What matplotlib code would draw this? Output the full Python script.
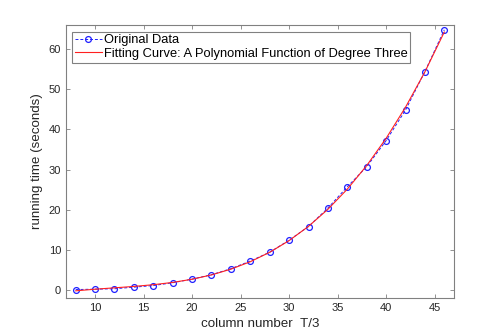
import numpy as np
import matplotlib
matplotlib.use("Agg")
import matplotlib.pyplot as plt

plt.rcParams['font.family'] = ['Liberation Sans', 'DejaVu Sans']

column_number = [8, 10, 12, 14, 16, 18, 20, 22, 24, 26, 28, 30, 32, 34, 36, 38, 40, 42, 44, 46]
running_time = [0.1, 0.2, 0.3, 0.7, 1.1, 1.8, 2.7, 3.8, 5.3, 7.2, 9.4, 12.4, 15.8,
                20.4, 25.7, 30.7, 37.2, 44.8, 54.4, 64.8]
x_ticks = [10, 15, 20, 25, 30, 35, 40, 45]
y_ticks = [0, 10, 20, 30, 40, 50, 60]

coef = np.polyfit(column_number, running_time, 3)
fit_vals = np.polyval(coef, column_number)

fig = plt.figure(figsize=(5.02, 3.35), dpi=100)
ax = fig.add_axes([66/502, 37/335, 388/502, 273/335])

ax.plot(column_number, running_time, '--o', color='#2020ff', lw=0.7, ms=4.2,
        mfc='none', mew=0.9, dashes=(3, 2), label='Original Data')
ax.plot(column_number, fit_vals, '-', color='#ff2020', lw=0.8,
        label='Fitting Curve: A Polynomial Function of Degree Three')

ax.set_xlim(7, 47)
ax.set_ylim(-2, 66)
ax.set_xticks(x_ticks)
ax.set_yticks(y_ticks)
gray = '#262626'
for s in ax.spines.values():
    s.set_color('#808080')
    s.set_linewidth(0.8)
ax.tick_params(direction='in', top=True, right=True, length=3, width=0.6,
               colors='#808080', labelcolor=gray, labelsize=8)
ax.set_xlabel('column number  T/3', fontsize=9.6, color=gray, labelpad=4)
ax.set_ylabel('running time (seconds)', fontsize=9.6, color=gray, labelpad=4)

leg = ax.legend(loc='upper left', bbox_to_anchor=(6.3/388, (298-31.7)/273), borderaxespad=0,
                fancybox=False, edgecolor='#808080', fontsize=9.3, handlelength=2.1,
                handletextpad=0.15, borderpad=0.2, labelspacing=0.12, framealpha=1)
leg.get_frame().set_linewidth(0.8)
for t in leg.get_texts():
    t.set_color('black')

fig.savefig('out.png', dpi=100)
